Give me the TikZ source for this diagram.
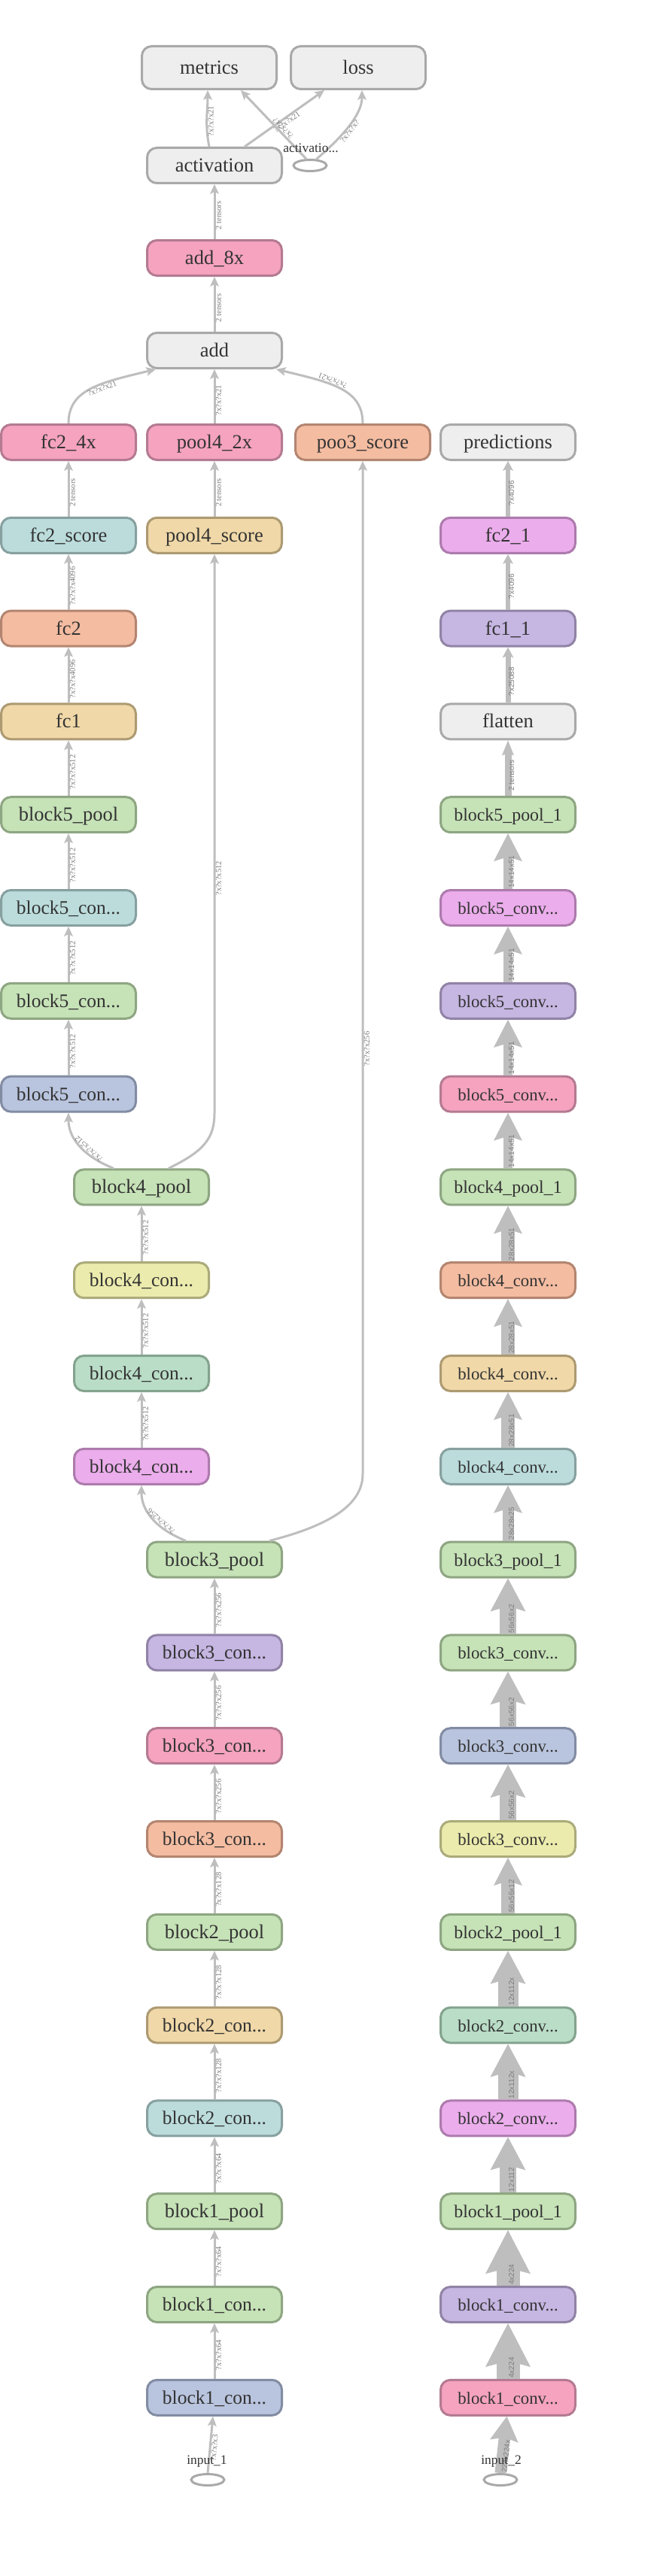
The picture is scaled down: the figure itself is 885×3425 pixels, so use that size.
\documentclass[tikz,border=0pt]{standalone}
\usepackage{fontspec}
\setmainfont{Liberation Serif}
\newfontfamily\lsansfam{Liberation Sans}
\usetikzlibrary{arrows.meta,calc,shapes.geometric}
\definecolor{txtc}{HTML}{333333}
\definecolor{edgec}{HTML}{BEBEBE}
\definecolor{lblc}{HTML}{7A7A7A}
\definecolor{rlblc}{HTML}{7C7C7C}
\definecolor{grayF}{HTML}{EEEEEE}\definecolor{grayD}{HTML}{A9A9A9}
\definecolor{pinkF}{HTML}{F5A3BF}\definecolor{pinkD}{HTML}{B47A91}
\definecolor{salmF}{HTML}{F4BCA1}\definecolor{salmD}{HTML}{B38570}
\definecolor{tealF}{HTML}{BCDCDC}\definecolor{tealD}{HTML}{87A0A0}
\definecolor{whtF}{HTML}{F0D8A8}\definecolor{whtD}{HTML}{AD9A72}
\definecolor{grnF}{HTML}{C6E2B7}\definecolor{grnD}{HTML}{8EA682}
\definecolor{bluF}{HTML}{B9C4DE}\definecolor{bluD}{HTML}{828CA3}
\definecolor{ylwF}{HTML}{EBEBAD}\definecolor{ylwD}{HTML}{ABAB7B}
\definecolor{mntF}{HTML}{BADDC7}\definecolor{mntD}{HTML}{84A38E}
\definecolor{orcF}{HTML}{EBADEB}\definecolor{orcD}{HTML}{AD7BAD}
\definecolor{lavF}{HTML}{C6B6E2}\definecolor{lavD}{HTML}{9183A6}
\newcommand\bxfont{\fontsize{26.5pt}{30pt}\selectfont}
\newcommand\bxcon{\fontsize{25.5pt}{30pt}\selectfont}
\newcommand\bxconv{\fontsize{22.8pt}{28pt}\selectfont}
\newcommand\bxpool{\fontsize{23.9pt}{28pt}\selectfont}
\newcommand\elfont{\fontsize{10.5pt}{12pt}\selectfont}
\newcommand\erfont{\lsansfam\fontsize{10pt}{12pt}\selectfont}
\newcommand\smfont{\fontsize{17.5pt}{20pt}\selectfont}
% thick edge: #1 src, #2 tgt, #3 shaft width, #4 half head width, #5 head length, #6 head length - inset, #7 label, #8 label options
\newcommand\fatedge[8]{%
  \coordinate (fa-s) at (#1);
  \coordinate (fa-t) at (#2);
  \coordinate (fa-b) at ($(fa-t)!#5!(fa-s)$);
  \coordinate (fa-i) at ($(fa-t)!#6!(fa-s)$);
  \draw[draw=edgec, line width=#3] (fa-s) -- (fa-i);
  \fill[edgec] (fa-t) -- ($(fa-b)!#4!90:(fa-t)$) -- (fa-i) -- ($(fa-b)!#4!-90:(fa-t)$) -- cycle;
  \path (fa-s) -- node[rlbl, #8] {#7} (fa-t);
}
\begin{document}
\begin{tikzpicture}[x=1pt,y=-1pt,
  box/.style={draw, rounded corners=13pt, minimum width=179pt, minimum height=47pt, line width=3pt, inner sep=0pt, text=txtc, font=\bxfont, text height=19pt, text depth=2pt},
  fcon/.style={font=\bxcon},
  fconv/.style={font=\bxconv},
  fpool/.style={font=\bxpool},
  ngray/.style={box, fill=grayF, draw=grayD},
  npink/.style={box, fill=pinkF, draw=pinkD},
  nsalm/.style={box, fill=salmF, draw=salmD},
  nteal/.style={box, fill=tealF, draw=tealD},
  nwht/.style={box, fill=whtF, draw=whtD},
  ngrn/.style={box, fill=grnF, draw=grnD},
  nblu/.style={box, fill=bluF, draw=bluD},
  nylw/.style={box, fill=ylwF, draw=ylwD},
  nmnt/.style={box, fill=mntF, draw=mntD},
  norc/.style={box, fill=orcF, draw=orcD},
  nlav/.style={box, fill=lavF, draw=lavD},
  nell/.style={ellipse, draw=grayD, line width=3pt, minimum width=44pt, minimum height=15pt, inner sep=0pt},
  smalltxt/.style={font=\smfont, text=txtc, inner sep=0pt},
  tedge/.style={draw=edgec, line width=3pt, -{Stealth[length=13pt,width=12pt,inset=3pt,line width=0pt]}},
  lbl/.style={font=\elfont, text=lblc, inner sep=0.5pt, sloped, allow upside down, anchor=north, pos=0.43},
  rlbl/.style={font=\erfont, text=rlblc, inner sep=1pt, sloped, allow upside down}
]
\fill[white] (0,0) rectangle (885,3425);
\useasboundingbox (0,0) rectangle (885,3425);

% ---------- top ----------
\node[ngray, minimum height=57pt] (metrics) at (278,90) {metrics};
\node[ngray, minimum height=57pt] (loss) at (476,90) {loss};
\node[ngray] (act) at (285,220) {activation};
\node[nell] (actin) at (412,220) {};
\node[npink] (add8) at (285,343) {add\_8x};
\node[ngray] (add) at (285,466) {add};

% ---------- row 0 ----------
\node[npink] (fc24) at (91,588) {fc2\_4x};
\node[npink] (p42) at (285,588) {pool4\_2x};
\node[nsalm] (p3s) at (482,588) {poo3\_score};
\node[ngray] (pred) at (675,588) {predictions};

% ---------- left / middle columns ----------
\node[nteal] (fc2s) at (91,{588+123.8*1}) {fc2\_score};
\node[nwht]  (p4s)  at (285,{588+123.8*1}) {pool4\_score};
\node[nsalm] (fc2)  at (91,{588+123.8*2}) {fc2};
\node[nwht]  (fc1)  at (91,{588+123.8*3}) {fc1};
\node[ngrn]  (b5p)  at (91,{588+123.8*4}) {block5\_pool};
\node[nteal,fcon] (b5c1) at (91,{588+123.8*5}) {block5\_con...};
\node[ngrn,fcon]  (b5c2) at (91,{588+123.8*6}) {block5\_con...};
\node[nblu,fcon]  (b5c3) at (91,{588+123.8*7}) {block5\_con...};
\node[ngrn]  (b4p)  at (188,{588+123.8*8}) {block4\_pool};
\node[nylw,fcon] (b4c1) at (188,{588+123.8*9}) {block4\_con...};
\node[nmnt,fcon] (b4c2) at (188,{588+123.8*10}) {block4\_con...};
\node[norc,fcon] (b4c3) at (188,{588+123.8*11}) {block4\_con...};
\node[ngrn]  (b3p)  at (285,{588+123.8*12}) {block3\_pool};
\node[nlav,fcon]  (b3c1) at (285,{588+123.8*13}) {block3\_con...};
\node[npink,fcon] (b3c2) at (285,{588+123.8*14}) {block3\_con...};
\node[nsalm,fcon] (b3c3) at (285,{588+123.8*15}) {block3\_con...};
\node[ngrn]  (b2p)  at (285,{588+123.8*16}) {block2\_pool};
\node[nwht,fcon]  (b2c1) at (285,{588+123.8*17}) {block2\_con...};
\node[nteal,fcon] (b2c2) at (285,{588+123.8*18}) {block2\_con...};
\node[ngrn]  (b1p)  at (285,{588+123.8*19}) {block1\_pool};
\node[ngrn,fcon]  (b1c1) at (285,{588+123.8*20}) {block1\_con...};
\node[nblu,fcon]  (b1c2) at (285,{588+123.8*21}) {block1\_con...};
\node[nell] (inp1) at (276,3297) {};

% ---------- right column ----------
\node[norc]  (fc21) at (675,{588+123.8*1}) {fc2\_1};
\node[nlav]  (fc11) at (675,{588+123.8*2}) {fc1\_1};
\node[ngray] (flat) at (675,{588+123.8*3}) {flatten};
\node[ngrn,fpool] (b5p1) at (675,{588+123.8*4}) {block5\_pool\_1};
\node[norc,fconv] (b5c1r) at (675,{588+123.8*5}) {block5\_conv...};
\node[nlav,fconv] (b5c2r) at (675,{588+123.8*6}) {block5\_conv...};
\node[npink,fconv] (b5c3r) at (675,{588+123.8*7}) {block5\_conv...};
\node[ngrn,fpool] (b4p1) at (675,{588+123.8*8}) {block4\_pool\_1};
\node[nsalm,fconv] (b4c1r) at (675,{588+123.8*9}) {block4\_conv...};
\node[nwht,fconv] (b4c2r) at (675,{588+123.8*10}) {block4\_conv...};
\node[nteal,fconv] (b4c3r) at (675,{588+123.8*11}) {block4\_conv...};
\node[ngrn,fpool] (b3p1) at (675,{588+123.8*12}) {block3\_pool\_1};
\node[ngrn,fconv] (b3c1r) at (675,{588+123.8*13}) {block3\_conv...};
\node[nblu,fconv] (b3c2r) at (675,{588+123.8*14}) {block3\_conv...};
\node[nylw,fconv] (b3c3r) at (675,{588+123.8*15}) {block3\_conv...};
\node[ngrn,fpool] (b2p1) at (675,{588+123.8*16}) {block2\_pool\_1};
\node[nmnt,fconv] (b2c1r) at (675,{588+123.8*17}) {block2\_conv...};
\node[norc,fconv] (b2c2r) at (675,{588+123.8*18}) {block2\_conv...};
\node[ngrn,fpool] (b1p1) at (675,{588+123.8*19}) {block1\_pool\_1};
\node[nlav,fconv] (b1c1r) at (675,{588+123.8*20}) {block1\_conv...};
\node[npink,fconv] (b1c2r) at (675,{588+123.8*21}) {block1\_conv...};
\node[nell] (inp2) at (665,3297) {};

% ---------- top edges ----------
\draw[tedge] ([xshift=-7pt]act.north) .. controls +(-6,-30) and +(0,28) .. ([xshift=-2pt]metrics.south) node[lbl,pos=0.44]{?x?x?x21};
\draw[tedge] ([xshift=40pt]act.north) -- node[lbl,pos=0.5]{?x?x?x21} ([xshift=-45pt]loss.south);
\draw[tedge] (actin.120) -- node[lbl,pos=0.4]{?x?x?x?} ([xshift=42pt]metrics.south);
\draw[tedge] (actin.45) .. controls +(35,-30) and +(0,32) .. ([xshift=5pt]loss.south) node[lbl,pos=0.45]{?x?x?x?};
\draw[tedge] (add8.north) -- node[lbl]{2 tensors} (act.south);
\draw[tedge] (add.north) -- node[lbl]{2 tensors} (add8.south);
\draw[tedge] (fc24.north) .. controls +(0,-45) and +(-75,18) .. ([xshift=-78pt]add.south) node[lbl,pos=0.6]{?x?x?x21};
\draw[tedge] (p42.north) -- node[lbl]{?x?x?x21} (add.south);
\draw[tedge] (p3s.north) .. controls +(0,-45) and +(75,18) .. ([xshift=82pt]add.south) node[lbl,pos=0.6]{?x?x?x21};

% ---------- left edges ----------
\draw[tedge] (fc2s.north) -- node[lbl]{2 tensors} (fc24.south);
\draw[tedge] (fc2.north) -- node[lbl]{?x?x?x4096} (fc2s.south);
\draw[tedge] (fc1.north) -- node[lbl]{?x?x?x4096} (fc2.south);
\draw[tedge] (b5p.north) -- node[lbl]{?x?x?x512} (fc1.south);
\draw[tedge] (b5c1.north) -- node[lbl]{?x?x?x512} (b5p.south);
\draw[tedge] (b5c2.north) -- node[lbl]{?x?x?x512} (b5c1.south);
\draw[tedge] (b5c3.north) -- node[lbl]{?x?x?x512} (b5c2.south);
\draw[tedge] ([xshift=-37pt]b4p.north) .. controls +(-45,-18) and +(0,30) .. (b5c3.south) node[lbl,pos=0.35]{?x?x?x512};
\draw[tedge] (p4s.north) -- node[lbl]{2 tensors} (p42.south);
\coordinate (p4bend) at (285,1480);
\draw[tedge] ([xshift=36pt]b4p.north) .. controls +(45,-22) and +(0,35) .. (p4bend) -- node[lbl,pos=0.42]{?x?x?x512} (p4s.south);
\draw[tedge] (b4c1.north) -- node[lbl]{?x?x?x512} (b4p.south);
\draw[tedge] (b4c2.north) -- node[lbl]{?x?x?x512} (b4c1.south);
\draw[tedge] (b4c3.north) -- node[lbl]{?x?x?x512} (b4c2.south);
\draw[tedge] ([xshift=-38pt]b3p.north) .. controls +(-45,-18) and +(0,30) .. (b4c3.south) node[lbl,pos=0.35]{?x?x?x256};
\coordinate (p3bend) at (482,1960);
\draw[tedge] ([xshift=73pt]b3p.north) .. controls +(70,-18) and +(0,45) .. (p3bend) -- node[lbl,pos=0.42]{?x?x?x256} (p3s.south);
\draw[tedge] (b3c1.north) -- node[lbl]{?x?x?x256} (b3p.south);
\draw[tedge] (b3c2.north) -- node[lbl]{?x?x?x256} (b3c1.south);
\draw[tedge] (b3c3.north) -- node[lbl]{?x?x?x256} (b3c2.south);
\draw[tedge] (b2p.north) -- node[lbl]{?x?x?x128} (b3c3.south);
\draw[tedge] (b2c1.north) -- node[lbl]{?x?x?x128} (b2p.south);
\draw[tedge] (b2c2.north) -- node[lbl]{?x?x?x128} (b2c1.south);
\draw[tedge] (b1p.north) -- node[lbl]{?x?x?x64} (b2c2.south);
\draw[tedge] (b1c1.north) -- node[lbl]{?x?x?x64} (b1p.south);
\draw[tedge] (b1c2.north) -- node[lbl]{?x?x?x64} (b1c1.south);
\draw[tedge] (inp1.north) -- node[lbl,pos=0.45]{?x?x?x3} ([xshift=-2pt]b1c2.south);

% ---------- right edges ----------
\fatedge{fc21.north}{pred.south}{6pt}{7pt}{13pt}{10pt}{?x4096}{pos=0.42,anchor=north}
\fatedge{fc11.north}{fc21.south}{6pt}{7pt}{13pt}{10pt}{?x4096}{pos=0.42,anchor=north}
\fatedge{flat.north}{fc11.south}{7pt}{7.5pt}{14pt}{11pt}{?x25088}{pos=0.38,anchor=north}
\fatedge{b5p1.north}{flat.south}{9pt}{8pt}{20pt}{17pt}{2 tensors}{pos=0.37,anchor=north}
\fatedge{b5c1r.north}{b5p1.south}{12pt}{19pt}{37pt}{31pt}{14x14x51}{pos=0,anchor=north west}
\fatedge{b5c2r.north}{b5c1r.south}{12pt}{19pt}{37pt}{31pt}{14x14x51}{pos=0,anchor=north west}
\fatedge{b5c3r.north}{b5c2r.south}{12pt}{19pt}{37pt}{31pt}{14x14x51}{pos=0,anchor=north west}
\fatedge{b4p1.north}{b5c3r.south}{12pt}{19pt}{37pt}{31pt}{14x14x51}{pos=0,anchor=north west}
\fatedge{b4c1r.north}{b4p1.south}{18pt}{19pt}{37pt}{31pt}{28x28x51}{pos=0,anchor=north west}
\fatedge{b4c2r.north}{b4c1r.south}{18pt}{19pt}{37pt}{31pt}{28x28x51}{pos=0,anchor=north west}
\fatedge{b4c3r.north}{b4c2r.south}{18pt}{19pt}{37pt}{31pt}{28x28x51}{pos=0,anchor=north west}
\fatedge{b3p1.north}{b4c3r.south}{15pt}{19pt}{37pt}{31pt}{28x28x25}{pos=0,anchor=north west}
\fatedge{b3c1r.north}{b3p1.south}{22pt}{23.5pt}{44pt}{37pt}{56x56x2}{pos=0,anchor=north west}
\fatedge{b3c2r.north}{b3c1r.south}{22pt}{23.5pt}{44pt}{37pt}{56x56x2}{pos=0,anchor=north west}
\fatedge{b3c3r.north}{b3c2r.south}{22pt}{23.5pt}{44pt}{37pt}{56x56x2}{pos=0,anchor=north west}
\fatedge{b2p1.north}{b3c3r.south}{18pt}{19pt}{37pt}{31pt}{56x56x12}{pos=0,anchor=north west}
\fatedge{b2c1r.north}{b2p1.south}{27pt}{23.5pt}{44pt}{37pt}{12x112x}{pos=0,anchor=north west}
\fatedge{b2c2r.north}{b2c1r.south}{27pt}{23.5pt}{44pt}{37pt}{12x112x}{pos=0,anchor=north west}
\fatedge{b1p1.north}{b2c2r.south}{22pt}{23.5pt}{44pt}{37pt}{12x112}{pos=0,anchor=north west}
\fatedge{b1c1r.north}{b1p1.south}{31pt}{30pt}{58pt}{50pt}{4x224}{pos=0,anchor=north west}
\fatedge{b1c2r.north}{b1c1r.south}{31pt}{30pt}{58pt}{50pt}{4x224}{pos=0,anchor=north west}
\fatedge{inp2.north}{[xshift=-1.5pt]b1c2r.south}{15pt}{19pt}{33pt}{28pt}{224x224x}{pos=0,anchor=north west}

% ---------- small texts ----------
\node[smalltxt] (actinlbl) at (413,197) {activatio...};
\node[smalltxt] (inp1lbl) at (275,3273) {input\_1};
\node[smalltxt] (inp2lbl) at (666,3273) {input\_2};
\end{tikzpicture}
\end{document}
